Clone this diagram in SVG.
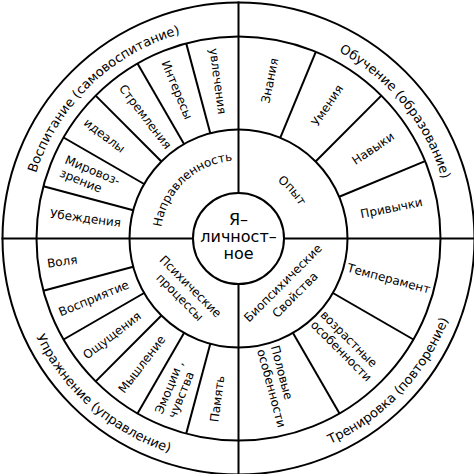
<svg xmlns="http://www.w3.org/2000/svg" width="474" height="474" viewBox="0 0 474 474">
<style>
.ln{fill:none;stroke:#000;stroke-width:2}
text{font-family:"DejaVu Sans","Liberation Sans",sans-serif;fill:#000}
.seg{font-size:12px}
.s{text-anchor:start}
.m{text-anchor:middle}
.ring{font-size:13px}
.mid{font-size:12px}
.core{font-size:16px;text-anchor:middle}
</style>
<defs>
<path id="pTL" d="M -153.93 148.66 A 214 214 0 0 1 153.93 -148.66"/>
<path id="pTR" d="M -134.67 -166.30 A 214 214 0 0 1 134.67 166.30"/>
<path id="pBL" d="M -169.81 -147.62 A 225 225 0 0 0 169.81 147.62"/>
<path id="pBR" d="M -154.89 163.22 A 225 225 0 0 0 154.89 -163.22"/>
<path id="pNap" d="M -57.05 53.20 A 78 78 0 0 1 57.05 -53.20"/>
<path id="pOp" d="M -46.17 -51.28 A 69 69 0 0 1 46.17 51.28"/>
</defs>
<rect width="474" height="474" fill="#fff"/>
<g transform="translate(238.5 238.5)">
<g id="rings">
<circle class="ln" r="236"/>
<circle class="ln" r="202"/>
<circle class="ln" r="109"/>
</g>
<g id="connectors" class="ln">
<line x1="-237" y1="0" x2="237" y2="0"/>
<line x1="0" y1="-237" x2="0" y2="237"/>
<line x1="109" x2="202" transform="rotate(195)"/>
<line x1="109" x2="202" transform="rotate(210)"/>
<line x1="109" x2="202" transform="rotate(225)"/>
<line x1="109" x2="202" transform="rotate(240)"/>
<line x1="109" x2="202" transform="rotate(255)"/>
<line x1="109" x2="202" transform="rotate(292.5)"/>
<line x1="109" x2="202" transform="rotate(315)"/>
<line x1="109" x2="202" transform="rotate(337.5)"/>
<line x1="109" x2="202" transform="rotate(30)"/>
<line x1="109" x2="202" transform="rotate(60)"/>
<line x1="109" x2="202" transform="rotate(105)"/>
<line x1="109" x2="202" transform="rotate(120)"/>
<line x1="109" x2="202" transform="rotate(135)"/>
<line x1="109" x2="202" transform="rotate(150)"/>
<line x1="109" x2="202" transform="rotate(165)"/>
</g>
<g id="core">
<circle r="45.5" fill="#fff" stroke="#000" stroke-width="2"/>
<text class="core" y="-13.5">Я–</text>
<text class="core" y="3">личност–</text>
<text class="core" y="20">ное</text>
</g>
<g id="outer-ring" class="ring">
<text><textPath href="#pTL" startOffset="50%" text-anchor="middle">Воспитание (самовоспитание)</textPath></text>
<text><textPath href="#pTR" startOffset="50%" text-anchor="middle">Обучение (образование)</textPath></text>
<text><textPath href="#pBL" startOffset="50%" text-anchor="middle">Упражнение (управление)</textPath></text>
<text><textPath href="#pBR" startOffset="50%" text-anchor="middle">Тренировка (повторение)</textPath></text>
</g>
<g id="napravlennost">
<text class="mid"><textPath href="#pNap" startOffset="50%" text-anchor="middle">Направленность</textPath></text>
<g class="seg s">
<text transform="rotate(7.5)" x="-190" y="4">Убеждения</text>
<text transform="rotate(22.5)" x="-190" y="-3">Мировоз-</text>
<text transform="rotate(22.5)" x="-190" y="11">зрение</text>
<text transform="rotate(37.5)" x="-193" y="4">идеалы</text>
<text transform="rotate(52.5)" x="-192" y="4">Стремления</text>
<text transform="rotate(67.5)" x="-192" y="4">Интересы</text>
<text transform="rotate(82.5)" x="-192" y="4">увлечения</text>
</g>
</g>
<g id="opyt">
<text class="mid"><textPath href="#pOp" startOffset="50%" text-anchor="middle">Опыт</textPath></text>
<g class="seg m">
<text transform="rotate(281.25)" x="161" y="4">Знания</text>
<text transform="rotate(303.75)" x="160" y="4">Умения</text>
<text transform="rotate(326.25)" x="162" y="4">Навыки</text>
<text transform="rotate(348.75)" x="156" y="4">Привычки</text>
</g>
</g>
<g id="biopsy">
<text class="mid m" transform="rotate(-45)" x="0" y="67">Биопсихические</text>
<text class="mid m" transform="rotate(-45)" x="0" y="84">Свойства</text>
<g class="seg s">
<text transform="rotate(15)" x="113" y="4">Темперамент</text>
<text transform="rotate(45)" x="112" y="-3">возрастные</text>
<text transform="rotate(45)" x="112" y="11">особенности</text>
<text transform="rotate(75)" x="113" y="-3">Половые</text>
<text transform="rotate(75)" x="113" y="11">особенности</text>
</g>
</g>
<g id="psych">
<text class="mid m" transform="rotate(45)" x="0" y="72">Психические</text>
<text class="mid m" transform="rotate(45)" x="0" y="87">процессы</text>
<g class="seg s">
<text transform="rotate(-7.5)" x="-193" y="4">Воля</text>
<text transform="rotate(-22.5)" x="-194" y="4">Восприятие</text>
<text transform="rotate(-37.5)" x="-194" y="4">Ощущения</text>
<text transform="rotate(-52.5)" x="-193" y="4">Мышление</text>
<text transform="rotate(-67.5)" x="-192" y="-3">Эмоции ,</text>
<text transform="rotate(-67.5)" x="-191" y="11">чувства</text>
<text transform="rotate(-82.5)" x="-185" y="4">Память</text>
</g>
</g>
</g>
</svg>
